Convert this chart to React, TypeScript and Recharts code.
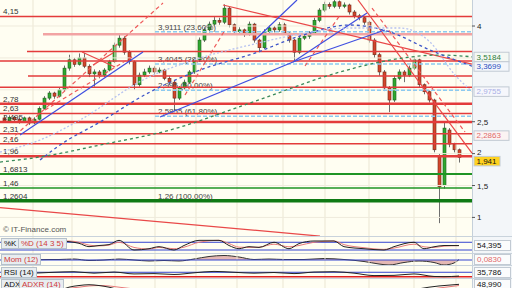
import React from "react";
import { ComposedChart, Bar, Line, Area, XAxis, YAxis, ReferenceLine } from "recharts";

const FONT = '"Liberation Sans", Arial, sans-serif';
const X_DOMAIN: [number, number] = [-0.8, 93.6];

// one candle per session: [open, high, low, close]
const candles: number[][] = [
  [2.56, 2.6, 2.48, 2.51], [2.51, 2.6, 2.49, 2.57], [2.57, 2.59, 2.5, 2.53], [2.54, 2.57, 2.47, 2.5],
  [2.5, 2.58, 2.48, 2.56], [2.56, 2.58, 2.45, 2.48], [2.48, 2.57, 2.46, 2.54], [2.54, 2.74, 2.52, 2.71],
  [2.71, 2.9, 2.69, 2.87], [2.87, 2.98, 2.84, 2.95], [2.95, 2.97, 2.86, 2.9], [2.9, 3.03, 2.88, 3.0],
  [3.0, 3.38, 2.98, 3.34], [3.34, 3.55, 3.3, 3.47], [3.47, 3.5, 3.36, 3.4], [3.4, 3.57, 3.38, 3.5],
  [3.5, 3.58, 3.34, 3.37], [3.37, 3.4, 3.2, 3.25], [3.25, 3.32, 3.05, 3.28], [3.28, 3.31, 3.18, 3.23],
  [3.23, 3.34, 3.2, 3.31], [3.31, 3.47, 3.29, 3.44], [3.44, 3.74, 3.42, 3.7], [3.7, 3.86, 3.66, 3.81],
  [3.81, 3.84, 3.55, 3.59], [3.59, 3.62, 3.4, 3.44], [3.44, 3.46, 3.0, 3.08], [3.08, 3.27, 3.05, 3.23],
  [3.23, 3.33, 3.2, 3.28], [3.28, 3.38, 3.25, 3.34], [3.34, 3.37, 3.24, 3.28], [3.28, 3.35, 3.26, 3.31],
  [3.31, 3.33, 3.15, 3.18], [3.18, 3.22, 3.08, 3.12], [3.12, 3.15, 2.68, 2.87], [2.87, 3.06, 2.84, 3.03],
  [3.03, 3.16, 3.0, 3.12], [3.12, 3.31, 3.1, 3.28], [3.28, 3.5, 3.25, 3.47], [3.47, 3.82, 3.44, 3.78],
  [3.78, 3.98, 3.75, 3.94], [3.94, 4.07, 3.9, 4.03], [4.03, 4.14, 4.0, 4.09], [4.09, 4.13, 4.02, 4.06],
  [4.06, 4.34, 4.03, 4.28], [4.28, 4.3, 3.98, 4.02], [4.02, 4.04, 3.86, 3.91], [3.91, 3.98, 3.88, 3.94],
  [3.94, 3.96, 3.83, 3.87], [3.87, 4.07, 3.85, 4.03], [4.03, 4.05, 3.74, 3.78], [3.78, 3.8, 3.59, 3.66],
  [3.66, 3.95, 3.64, 3.91], [3.91, 4.01, 3.88, 3.97], [3.97, 4.0, 3.9, 3.94], [3.94, 4.06, 3.91, 4.02],
  [4.02, 4.05, 3.86, 3.89], [3.89, 3.92, 3.74, 3.78], [3.78, 3.8, 3.44, 3.59], [3.59, 3.85, 3.56, 3.81],
  [3.81, 3.88, 3.78, 3.84], [3.84, 3.92, 3.8, 3.89], [3.89, 4.13, 3.86, 4.09], [4.09, 4.28, 4.06, 4.25],
  [4.25, 4.38, 4.22, 4.34], [4.34, 4.37, 4.27, 4.31], [4.31, 4.41, 4.28, 4.38], [4.38, 4.4, 4.27, 4.31],
  [4.31, 4.37, 4.28, 4.33], [4.33, 4.35, 4.18, 4.22], [4.22, 4.25, 4.12, 4.16], [4.16, 4.19, 4.09, 4.13],
  [4.13, 4.16, 4.02, 4.06], [4.06, 4.08, 3.74, 3.78], [3.78, 3.81, 3.5, 3.55], [3.55, 3.58, 3.22, 3.28],
  [3.28, 3.31, 2.98, 3.03], [3.03, 3.06, 2.65, 2.84], [2.84, 3.22, 2.81, 3.18], [3.18, 3.32, 3.15, 3.28],
  [3.28, 3.31, 3.12, 3.23], [3.23, 3.38, 3.2, 3.34], [3.34, 3.52, 3.31, 3.47], [3.47, 3.49, 3.04, 3.08],
  [3.08, 3.1, 2.93, 2.97], [2.97, 2.99, 2.8, 2.84], [2.84, 2.86, 2.02, 2.06], [1.95, 2.0, 0.91, 1.48],
  [1.5, 2.5, 1.45, 2.4], [2.37, 2.4, 2.1, 2.15], [2.15, 2.17, 2.02, 2.06], [2.06, 2.08, 1.86, 1.941],
];

const monthTicks = [5.8, 13.6, 22.2, 30.2, 38.4, 46.6, 55.8, 64.2, 73.0, 82.0, 90.4];
const priceTicks = [1, 1.5, 2, 2.5, 4];

// support / resistance levels (red), with the session where each starts
const srLevels = [4.15, 3.87, 3.6, 3.45, 3.216, 3.04, 2.78, 2.63, 2.495, 2.31, 2.155, 1.96];
const srStarts = [-0.8, 7.8, 4.6, -0.8, 4.8, -0.8, -0.8, -0.8, -0.8, -0.8, -0.8, -0.8];
const srLabels = ["4,15", "", "", "", "", "", "2,78", "2,63", "2,495", "2,31", "2,16", "1,96"];
const greenLevels = [1.6813, 1.46, 1.2604];
const greenLabels = ["1,6813", "1,46", "1,2604"];

// fibonacci retracements
const fibLevels = [3.9111, 3.4045, 2.995, 2.5855];
const fibLabels = ["3,9111 (23,60%)", "3,4045 (38,20%)", "2,995 (50,00%)", "2,5855 (61,80%)"];
const fibStart = 30.2;

// trendlines: [x1, price1, x2, price2]
const redTrends = [
  [43.8, 4.329, 93.6, 3.404],
  [-0.8, 1.152, 63.2, 0.708],
  [70.8, 4.408, 93.6, 2.009],
  [15.6, 3.592, 22.2, 3.357],
  [17.8, 3.389, 21.8, 3.577],
];
const redDashed = [
  [1.2, 2.213, 31.8, 4.36],
  [8.2, 2.683, 26.2, 3.545],
  [36.2, 2.918, 44.2, 3.937],
  [60.2, 3.373, 67.2, 4.172],
  [73.6, 4.282, 92.2, 2.339],
];
const blueTrends = [
  [3.2, 2.292, 27.8, 3.592],
  [31.2, 2.574, 57.8, 3.436],
  [57.8, 3.436, 76.2, 3.937],
  [57.8, 3.436, 72.6, 4.204],
  [50.2, 3.781, 58.6, 4.408],
];

// moving averages
const greenMaX = [-0.8, 7.2, 19.2, 33.2, 49.2, 67.2, 75.2, 87.2, 93.6];
const greenMaY = [1.868, 1.947, 2.135, 2.37, 2.793, 3.279, 3.436, 3.545, 3.518];
const blueMaX = [7.2, 11.2, 19.2, 29.2, 39.2, 50.2, 59.2, 69.2, 77.2, 85.2, 93.6];
const blueMaY = [1.9, 2.135, 2.495, 2.966, 3.31, 3.577, 3.843, 4.016, 3.906, 3.624, 3.37];
const lilacMaX = [-0.8, 7.2, 15.2, 27.8, 39.2, 49.2, 59.2, 69.2, 79.2, 85.2, 90.2, 93.6];
const lilacMaY = [2.025, 2.213, 2.527, 3.154, 3.498, 3.702, 3.875, 3.969, 3.969, 3.749, 3.232, 2.976];

// last values shown on the price scale
const lastValues = [3.5184, 3.3699, 2.9755, 2.2863, 1.941];
const lastLabels = ["3,5184", "3,3699", "2,9755", "2,2863", "1,941"];

// indicators
const stochX = [11, 13, 15, 17, 19, 21, 23, 26, 29, 31, 34, 36, 39, 43, 45, 47, 49, 51, 54, 57, 59, 62, 66, 68, 72, 76, 78, 82, 84, 86, 88, 91];
const stochK = [92, 85, 72, 46, 55, 62, 95, 20, 30, 46, 20, 55, 95, 95, 55, 30, 46, 40, 80, 30, 70, 90, 90, 46, 30, 20, 46, 80, 30, 45, 55, 54.4];
const stochD = [88, 90, 80, 58, 52, 58, 80, 40, 28, 40, 30, 42, 80, 95, 70, 42, 40, 42, 65, 45, 55, 80, 90, 62, 38, 25, 35, 65, 45, 40, 50, 54];
const momX = [6, 9, 11, 14, 17, 20, 23, 26, 29, 32, 35, 38, 41, 44, 47, 50, 53, 56, 60, 64, 68, 72, 75, 77, 80, 83, 86, 88, 90, 91];
const mom = [0.05, 0.1, 0.1, 0.2, -0.1, 0, 0.2, 0, -0.2, -0.1, -0.2, 0.2, 0.7, 0.9, 0.6, 0.1, 0.2, 0.1, 0.1, 0.3, 0.1, -0.3, -0.8, -1.0, -0.5, -0.2, -0.5, -1.0, -0.6, 0.083];
const rsiX = [6, 10, 14, 18, 22, 26, 30, 34, 38, 42, 46, 50, 54, 58, 62, 66, 70, 74, 78, 82, 86, 88, 91];
const rsi = [62, 70, 75, 62, 72, 55, 58, 50, 65, 78, 70, 62, 68, 58, 72, 75, 62, 40, 42, 55, 32, 30, 35.8];
const adxX = [12, 13, 15, 17, 19, 21, 23, 30, 40, 50, 60, 70, 78, 82, 85, 87, 89, 91];
const adx = [38, 42, 46, 48, 46, 42, 36, 28, 30, 25, 28, 22, 30, 36, 42, 45, 47, 49];
const adxr = [36, 39, 42, 45, 46, 45, 42, 33, 28, 27, 26, 24, 26, 30, 36, 40, 43, 46];

const candleData = candles.map((c, i) => ({ i, o: c[0], h: c[1], l: c[2], c: c[3], range: [c[2], c[1]] }));
const zip = (xs: number[], ys: number[]) => xs.map((i, k) => ({ i, v: ys[k] }));
const stochData = stochX.map((i, k) => ({ i, k: stochK[k], d: stochD[k] }));
const adxData = adxX.map((i, k) => ({ i, a: adx[k], r: adxr[k] }));

const fmt = (v: number) => String(v).replace(".", ",");

function Candle(props: any) {
  const { x, y, width, height, payload } = props;
  if (x == null || y == null) return null;
  const top = Math.min(y, y + height);
  const h = Math.abs(height);
  const ppu = h / (payload.h - payload.l || 1);
  const bTop = top + (payload.h - Math.max(payload.o, payload.c)) * ppu;
  const bBot = top + (payload.h - Math.min(payload.o, payload.c)) * ppu;
  const cx = Math.round(x + width / 2) + 0.5;
  const up = payload.c >= payload.o;
  return (
    <g>
      <line x1={cx} x2={cx} y1={top} y2={top + h} stroke="#6f6f6f" strokeWidth={1} />
      <rect
        x={cx - 1.5}
        y={bTop}
        width={3}
        height={Math.max(1, bBot - bTop)}
        fill={up ? "#2fa82f" : "#d4462c"}
        stroke={up ? "#1c5e1c" : "#6b2a1a"}
        strokeWidth={0.6}
      />
    </g>
  );
}

// price scale tick; the "2" sits just above the last-price box
function PriceTick(props: any) {
  const { x, y, payload } = props;
  const dy = payload.value === 2 ? -2 : 0;
  return (
    <text x={x} y={y + dy} dy={3} fontSize={8} fill="#222" fontFamily={FONT} textAnchor="start">
      {fmt(payload.value)}
    </text>
  );
}

const leftText = (text: string, color = "#333") => (props: any) => {
  const vb = props.viewBox || {};
  return (
    <text x={(vb.x ?? 0) + 3} y={(vb.y ?? 0) - 2} fontSize={8} fill={color} fontFamily={FONT}>
      {text}
    </text>
  );
};

const boxColors = [
  { fg: "#2e7d3a", bg: "#f4f8f4", w: 35 },
  { fg: "#2d4fc0", bg: "#f3f6fb", w: 35 },
  { fg: "#aab0e6", bg: "#f6f7fc", w: 35 },
  { fg: "#e06a6a", bg: "#fbf3f3", w: 35 },
  { fg: "#111", bg: "#ffd21f", w: 26 },
];

const valueBox = (text: string, fg: string, bg: string, w: number, dy: number) => (props: any) => {
  const vb = props.viewBox || {};
  const x = (vb.x ?? 0) + (vb.width ?? 0) + 2;
  const y = (vb.y ?? 0) + dy;
  return (
    <g>
      <rect x={x} y={y - 4.5} width={w} height={9.5} fill={bg} stroke="#c2cad3" strokeWidth={1} />
      <text x={x + 2.5} y={y + 3} fontSize={8} fill={fg} fontFamily={FONT}>
        {text}
      </text>
    </g>
  );
};

const seg = (s: number[]) => [
  { x: s[0], y: s[1] },
  { x: s[2], y: s[3] },
];

const thick = [2.78, 2.495, 1.96];

function MainChart() {
  return (
    <ComposedChart width={512} height={237} data={candleData} margin={{ top: 0, right: 0, bottom: 0, left: 0 }}>
      <XAxis dataKey="i" type="number" domain={X_DOMAIN} hide allowDataOverflow />
      <YAxis
        orientation="right"
        type="number"
        domain={[0.693, 4.408]}
        allowDataOverflow
        ticks={priceTicks}
        width={40}
        axisLine={false}
        tickSize={3}
        tickLine={{ stroke: "#555" }}
        tick={PriceTick}
      />
      {monthTicks.map((t) => (
        <ReferenceLine key={"m" + t} x={t} stroke="#ebe6d3" strokeWidth={1} />
      ))}
      {[1, 1.5, 2, 2.5, 3, 3.5, 4].map((t) => (
        <ReferenceLine key={"g" + t} y={t} stroke="#efebdc" strokeWidth={1} />
      ))}
      {fibLevels.map((v, k) => (
        <ReferenceLine
          key={"f" + v}
          segment={[{ x: fibStart, y: v }, { x: X_DOMAIN[1], y: v }]}
          stroke="#8ccaf0"
          strokeWidth={1.5}
          strokeDasharray="4 2"
          label={leftText(fibLabels[k], "#444")}
        />
      ))}
      {srLevels.map((v, k) => (
        <ReferenceLine
          key={"r" + v}
          segment={[{ x: srStarts[k], y: v }, { x: X_DOMAIN[1], y: v }]}
          stroke={k === 1 ? "#f2a3a3" : "#e33b3b"}
          strokeWidth={k === 1 ? 2.5 : thick.includes(v) ? 2.5 : 1.5}
          label={srLabels[k] ? leftText(srLabels[k]) : undefined}
        />
      ))}
      {greenLevels.map((v, k) => (
        <ReferenceLine
          key={"gr" + v}
          y={v}
          stroke={k === 2 ? "#0f7a14" : "#1f9424"}
          strokeWidth={k === 2 ? 3.5 : k === 0 ? 2 : 1.5}
          label={leftText(greenLabels[k])}
        />
      ))}
      <ReferenceLine
        segment={[{ x: fibStart, y: 1.2604 }, { x: X_DOMAIN[1], y: 1.2604 }]}
        stroke="none"
        strokeOpacity={0}
        label={leftText("1,26 (100,00%)", "#444")}
      />
      {redTrends.map((s, k) => (
        <ReferenceLine key={"rt" + k} segment={seg(s)} stroke="#e94848" strokeWidth={1.2} />
      ))}
      {redDashed.map((s, k) => (
        <ReferenceLine key={"rd" + k} segment={seg(s)} stroke="#ee5a5a" strokeWidth={1.2} strokeDasharray="4 3" />
      ))}
      {blueTrends.map((s, k) => (
        <ReferenceLine key={"bt" + k} segment={seg(s)} stroke="#3f4fe0" strokeWidth={1.2} />
      ))}
      <Line data={zip(greenMaX, greenMaY)} dataKey="v" type="monotone" stroke="#3a8a5a" strokeWidth={1.3} strokeDasharray="3 3" dot={false} isAnimationActive={false} />
      <Line data={zip(blueMaX, blueMaY)} dataKey="v" type="monotone" stroke="#3e56c8" strokeWidth={1.3} strokeDasharray="3 3" dot={false} isAnimationActive={false} />
      <Line data={zip(lilacMaX, lilacMaY)} dataKey="v" type="monotone" stroke="#b6c2f0" strokeWidth={1.3} strokeDasharray="2 2" dot={false} isAnimationActive={false} />
      <Bar dataKey="range" barSize={3} shape={Candle} isAnimationActive={false} />
      {lastValues.map((v, k) => (
        <ReferenceLine
          key={"lv" + v}
          y={v}
          stroke="none"
          strokeOpacity={0}
          label={valueBox(lastLabels[k], boxColors[k].fg, boxColors[k].bg, boxColors[k].w, k === 4 ? 3.5 : 0)}
        />
      ))}
    </ComposedChart>
  );
}

const grid = monthTicks.map((t) => <ReferenceLine key={"pm" + t} x={t} stroke="#ebe6d3" strokeWidth={1} />);
const panelMargin = { top: 0, right: 40, bottom: 0, left: 0 };

const tag = (left: number, top: number, text: string, color: string) => (
  <div
    style={{
      position: "absolute",
      left,
      top,
      height: 9,
      padding: "0 2px",
      fontSize: 8,
      lineHeight: "9px",
      color,
      background: "#e8edf0",
      border: "1px solid #b6c1ca",
      whiteSpace: "nowrap",
    }}
  >
    {text}
  </div>
);

const rightBox = (top: number, text: string, color: string) => (
  <div
    style={{
      position: "absolute",
      left: 474,
      top,
      width: 33,
      height: 9,
      paddingLeft: 2,
      fontSize: 8,
      lineHeight: "9px",
      color,
      background: "#fbfcfd",
      border: "1px solid #c2cad3",
    }}
  >
    {text}
  </div>
);

const sep = (top: number) => (
  <div style={{ position: "absolute", left: 0, top, width: 512, height: 1, background: "#c9d3dc" }} />
);

export default function App() {
  return (
    <div
      style={{
        position: "absolute",
        left: 0,
        top: 0,
        width: 512,
        height: 288,
        overflow: "hidden",
        background: "#fffef2",
        fontFamily: FONT,
      }}
    >
      <div style={{ position: "absolute", left: 472, top: 0, width: 40, height: 288, background: "#f3f6f9", borderLeft: "1px solid #c5d0da" }} />
      <div style={{ position: "absolute", left: 0, top: 0 }}>
        <MainChart />
      </div>
      <div style={{ position: "absolute", left: 3, top: 225, fontSize: 8, color: "#555", whiteSpace: "nowrap" }}>© IT-Finance.com</div>
      {sep(236)}

      <div style={{ position: "absolute", left: 0, top: 237 }}>
        <ComposedChart width={512} height={17} margin={panelMargin}>
          <XAxis dataKey="i" type="number" domain={X_DOMAIN} hide allowDataOverflow />
          <YAxis hide domain={[-11, 121]} allowDataOverflow />
          {grid}
          <ReferenceLine y={80} stroke="#3444d0" strokeWidth={1} />
          <ReferenceLine y={20} stroke="#3444d0" strokeWidth={1} />
          <Line data={stochData} dataKey="d" type="monotone" stroke="#e87a7a" strokeWidth={1} dot={false} isAnimationActive={false} />
          <Line data={stochData} dataKey="k" type="monotone" stroke="#222" strokeWidth={1} dot={false} isAnimationActive={false} />
        </ComposedChart>
      </div>
      {sep(253)}

      <div style={{ position: "absolute", left: 0, top: 254 }}>
        <ComposedChart width={512} height={12} margin={panelMargin}>
          <XAxis dataKey="i" type="number" domain={X_DOMAIN} hide allowDataOverflow />
          <YAxis hide domain={[-1.2, 1.2]} allowDataOverflow />
          {grid}
          <Area data={zip(momX, mom)} dataKey="v" type="monotone" baseValue={0} stroke="#333" strokeWidth={1} fill="#d99a9a" fillOpacity={0.7} dot={false} isAnimationActive={false} />
          <ReferenceLine y={0} stroke="#3444d0" strokeWidth={1} />
        </ComposedChart>
      </div>
      {sep(265)}

      <div style={{ position: "absolute", left: 0, top: 266 }}>
        <ComposedChart width={512} height={13} margin={panelMargin}>
          <XAxis dataKey="i" type="number" domain={X_DOMAIN} hide allowDataOverflow />
          <YAxis hide domain={[9, 127]} allowDataOverflow />
          {grid}
          <ReferenceLine y={70} stroke="#3444d0" strokeWidth={1} />
          <ReferenceLine y={30} stroke="#e02020" strokeWidth={1.5} />
          <Line data={zip(rsiX, rsi)} dataKey="v" type="monotone" stroke="#222" strokeWidth={1} dot={false} isAnimationActive={false} />
        </ComposedChart>
      </div>
      {sep(278)}

      <div style={{ position: "absolute", left: 0, top: 279 }}>
        <ComposedChart width={512} height={9} margin={panelMargin}>
          <XAxis dataKey="i" type="number" domain={X_DOMAIN} hide allowDataOverflow />
          <YAxis hide domain={[40, 62]} allowDataOverflow />
          {grid}
          <Line data={adxData} dataKey="r" type="monotone" stroke="#e87a7a" strokeWidth={1} dot={false} isAnimationActive={false} />
          <Line data={adxData} dataKey="a" type="monotone" stroke="#222" strokeWidth={1} dot={false} isAnimationActive={false} />
        </ComposedChart>
      </div>

      {tag(1, 238, "%K", "#111")}
      {tag(18, 238, "%D (14 3 5)", "#d03a3a")}
      {tag(1, 254, "Mom (12)", "#d03a3a")}
      {tag(1, 267, "RSI (14)", "#111")}
      {tag(1, 279, "ADX", "#111")}
      {tag(19, 279, "ADXR (14)", "#d03a3a")}

      {rightBox(240, "54,395", "#111")}
      {rightBox(254, "0,0830", "#e06a6a")}
      {rightBox(267, "35,786", "#111")}
      {rightBox(279, "48,990", "#111")}
    </div>
  );
}
